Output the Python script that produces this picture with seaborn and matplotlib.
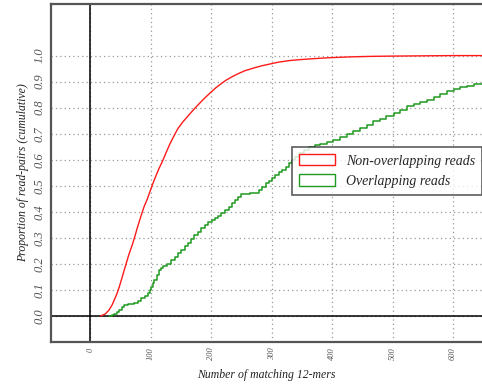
import matplotlib
matplotlib.use("Agg")
import matplotlib.pyplot as plt
import seaborn as sns
import pandas as pd
from matplotlib.patches import Patch

# cumulative proportion curves
non_overlap_x = [17, 25, 31, 36, 39, 44, 48, 52, 56, 60, 64, 69, 73, 77, 81, 85, 89, 94, 98,
                 102, 106, 110, 114, 119, 123, 127, 131, 138, 145, 153, 162, 170, 178, 188,
                 198, 207, 217, 225, 234, 245, 256, 270, 284, 298, 312, 330, 350, 375, 397,
                 430, 465, 500, 550, 600, 648]
non_overlap_y = [0.0, 0.008, 0.023, 0.042, 0.058, 0.085, 0.112, 0.143, 0.175, 0.206, 0.237,
                 0.27, 0.3, 0.332, 0.363, 0.392, 0.42, 0.447, 0.473, 0.499, 0.523, 0.546,
                 0.568, 0.592, 0.614, 0.636, 0.657, 0.69, 0.72, 0.745, 0.769, 0.79, 0.81,
                 0.834, 0.856, 0.875, 0.893, 0.906, 0.918, 0.931, 0.942, 0.952, 0.961, 0.968,
                 0.975, 0.981, 0.985, 0.989, 0.992, 0.995, 0.997, 0.998, 0.999, 1.0, 1.0]

overlap_x = [31, 36, 39, 44, 48, 52, 56, 62, 67, 73, 79, 84, 90, 95, 98, 101, 104, 106, 110,
             114, 117, 120, 127, 134, 140, 145, 150, 156, 161, 167, 172, 178, 183, 189,
             195, 201, 206, 212, 217, 223, 229, 234, 239, 245, 250, 256, 264, 273, 279,
             284, 290, 295, 301, 306, 312, 317, 323, 328, 334, 339, 345, 353, 362, 371,
             380, 391, 402, 413, 424, 435, 446, 457, 468, 479, 490, 502, 513, 524, 535,
             546, 557, 568, 579, 590, 601, 612, 623, 634, 648]
overlap_y = [0.0, 0.004, 0.008, 0.015, 0.023, 0.033, 0.042, 0.046, 0.047, 0.049, 0.058,
             0.068, 0.078, 0.087, 0.1, 0.113, 0.125, 0.138, 0.158, 0.177, 0.185, 0.192,
             0.2, 0.213, 0.227, 0.241, 0.254, 0.267, 0.281, 0.295, 0.31, 0.324, 0.337,
             0.35, 0.36, 0.369, 0.376, 0.382, 0.395, 0.408, 0.42, 0.433, 0.446, 0.458,
             0.469, 0.469, 0.471, 0.474, 0.485, 0.497, 0.51, 0.52, 0.53, 0.54, 0.551,
             0.562, 0.574, 0.587, 0.6, 0.612, 0.625, 0.638, 0.65, 0.658, 0.662, 0.668,
             0.677, 0.686, 0.698, 0.709, 0.722, 0.735, 0.747, 0.757, 0.767, 0.78, 0.792,
             0.805, 0.814, 0.822, 0.831, 0.841, 0.852, 0.863, 0.872, 0.879, 0.885, 0.889,
             0.892]

series_names = ["Non-overlapping reads", "Overlapping reads"]
colors = ["#ff1a1a", "#1f9a1f"]

x_ticks = [0, 100, 200, 300, 400, 500, 600]
y_ticks = [0.0, 0.1, 0.2, 0.3, 0.4, 0.5, 0.6, 0.7, 0.8, 0.9, 1.0]

df = pd.concat([
    pd.DataFrame({"x": non_overlap_x, "y": non_overlap_y, "series": series_names[0]}),
    pd.DataFrame({"x": overlap_x, "y": overlap_y, "series": series_names[1]}),
])

sns.set_theme(style="white")
plt.rcParams["font.family"] = ["Liberation Serif", "DejaVu Serif"]
plt.rcParams["font.style"] = "italic"

fig = plt.figure(figsize=(4.82, 3.85), dpi=100)
ax = fig.add_axes([51 / 482, 43 / 385, 1 - 51 / 482, (342 - 3.5) / 385])

sns.lineplot(data=df[df.series == series_names[0]], x="x", y="y", color=colors[0],
             lw=1.0, ax=ax, legend=False)
sns.lineplot(data=df[df.series == series_names[1]], x="x", y="y", color=colors[1],
             lw=1.1, ax=ax, legend=False, drawstyle="steps-post")

ax.axhline(0, color="black", lw=1.1, zorder=1)
ax.axvline(0, color="black", lw=1.1, zorder=1)

ax.set_xlim(-65, 648)
ax.set_ylim(-0.1, 1.2)
ax.set_xticks(x_ticks)
ax.set_yticks(y_ticks)
ax.set_xticklabels([str(t) for t in x_ticks], rotation=90, fontsize=6, color="#555555")
ax.set_yticklabels([f"{t:.1f}" for t in y_ticks], rotation=90, fontsize=9,
                   color="#555555", va="center")
ax.tick_params(length=0, pad=4)
ax.grid(True, linestyle=(0, (1, 2.5)), color="#999999", lw=0.9)
for s in ["left", "top", "bottom"]:
    ax.spines[s].set_color("#555555")
    ax.spines[s].set_linewidth(1.6)
ax.spines["right"].set_visible(False)

ax.set_xlabel("Number of matching 12-mers", fontsize=8.5, color="#222222", labelpad=6)
ax.set_ylabel("Proportion of read-pairs (cumulative)", fontsize=8.5, color="#222222", labelpad=3)

handles = [Patch(facecolor="white", edgecolor=c, lw=1.0) for c in colors]
leg = ax.legend(handles, series_names, loc="upper right", bbox_to_anchor=(1.0, 0.576),
                fontsize=10, frameon=True, fancybox=False, edgecolor="#333333",
                borderaxespad=0, handlelength=2.6, handleheight=0.9, borderpad=0.5)
leg.get_frame().set_linewidth(1.2)

fig.savefig("out.png", dpi=100)
